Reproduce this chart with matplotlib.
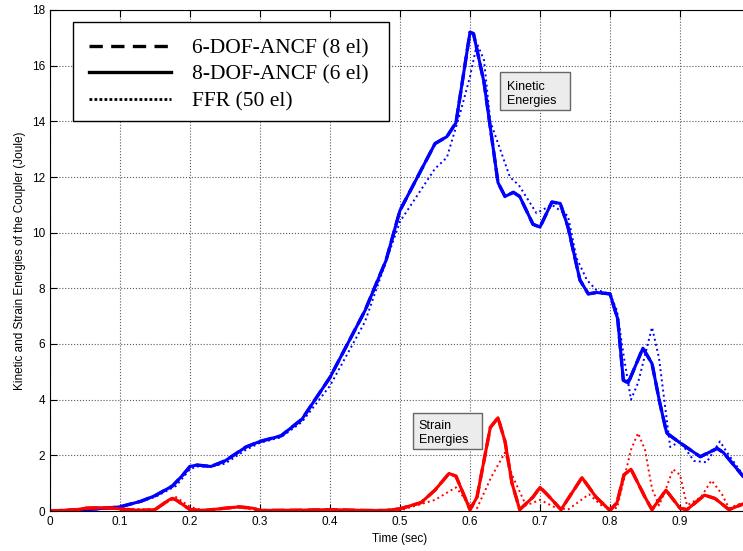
import numpy as np
import matplotlib
matplotlib.use("Agg")
import matplotlib.pyplot as plt
from matplotlib.lines import Line2D
from matplotlib.patches import Rectangle

# kinetic energy of the coupler (Joule)
t_ke = [0.0, 0.04, 0.08, 0.10, 0.13, 0.15, 0.175, 0.19, 0.20, 0.21, 0.23, 0.25, 0.28,
        0.30, 0.33, 0.36, 0.40, 0.45, 0.48, 0.50, 0.55, 0.567, 0.58, 0.60, 0.605,
        0.62, 0.64, 0.65, 0.662, 0.671, 0.69, 0.70, 0.717, 0.729, 0.74, 0.757,
        0.769, 0.781, 0.80, 0.811, 0.819, 0.826, 0.847, 0.86, 0.871, 0.881, 0.90,
        0.929, 0.953, 0.962, 0.99]
ke_ancf = [0.0, 0.03, 0.1, 0.15, 0.35, 0.55, 0.9, 1.3, 1.6, 1.65, 1.6, 1.8, 2.3,
           2.5, 2.7, 3.3, 4.8, 7.2, 9.0, 10.8, 13.2, 13.45, 13.95, 17.2, 17.15,
           15.4, 11.8, 11.3, 11.45, 11.3, 10.3, 10.2, 11.1, 11.05, 10.2, 8.3,
           7.8, 7.85, 7.8, 6.9, 4.7, 4.6, 5.85, 5.3, 3.9, 2.8, 2.45,
           1.95, 2.25, 2.1, 1.25]

t_ke_ffr = [0.0, 0.04, 0.08, 0.10, 0.15, 0.18, 0.20, 0.21, 0.23, 0.25, 0.28, 0.30,
            0.33, 0.36, 0.40, 0.45, 0.50, 0.55, 0.567, 0.586, 0.60, 0.61, 0.62,
            0.629, 0.657, 0.67, 0.695, 0.717, 0.74, 0.752, 0.767, 0.78, 0.80,
            0.81, 0.82, 0.83, 0.84, 0.86, 0.87, 0.886, 0.90, 0.92, 0.938, 0.957,
            0.97, 0.99]
ke_ffr = [0.0, 0.03, 0.08, 0.13, 0.5, 0.9, 1.5, 1.6, 1.6, 1.7, 2.2, 2.45,
          2.65, 3.2, 4.5, 6.8, 10.4, 12.3, 12.7, 14.3, 15.6, 16.8, 16.2,
          14.0, 12.0, 11.7, 10.7, 11.0, 10.6, 9.1, 8.3, 7.95, 7.8,
          7.2, 5.5, 4.0, 4.6, 6.6, 5.5, 2.3, 2.5, 1.8, 1.75, 2.5,
          2.0, 1.3]

# strain energy of the coupler (Joule)
t_se = [0.0, 0.04, 0.05, 0.07, 0.09, 0.11, 0.13, 0.15, 0.17, 0.175, 0.18, 0.20,
        0.22, 0.25, 0.27, 0.29, 0.30, 0.36, 0.40, 0.45, 0.48, 0.50, 0.53, 0.55,
        0.57, 0.58, 0.60, 0.61, 0.629, 0.64, 0.65, 0.66, 0.671, 0.69, 0.70,
        0.71, 0.73, 0.76, 0.78, 0.80, 0.81, 0.82, 0.83, 0.85, 0.86, 0.88,
        0.90, 0.91, 0.935, 0.95, 0.97, 0.99]
se_ancf = [0.0, 0.05, 0.1, 0.12, 0.1, 0.05, 0.02, 0.05, 0.4, 0.45, 0.4, 0.05,
           0.02, 0.1, 0.15, 0.1, 0.02, 0.03, 0.05, 0.02, 0.02, 0.08, 0.3, 0.75,
           1.35, 1.25, 0.05, 0.5, 3.0, 3.35, 2.5, 1.0, 0.05, 0.5, 0.85,
           0.6, 0.05, 1.2, 0.5, 0.02, 0.3, 1.3, 1.5, 0.5, 0.05, 0.75,
           0.1, 0.05, 0.57, 0.45, 0.05, 0.25]

t_se_ffr = [0.0, 0.05, 0.09, 0.15, 0.18, 0.20, 0.22, 0.27, 0.30, 0.40, 0.50,
            0.55, 0.58, 0.60, 0.61, 0.63, 0.65, 0.66, 0.68, 0.70, 0.72, 0.74,
            0.77, 0.79, 0.81, 0.83, 0.84, 0.85, 0.86, 0.87, 0.88, 0.89, 0.90,
            0.91, 0.93, 0.945, 0.96, 0.97, 0.99]
se_ffr = [0.0, 0.1, 0.1, 0.05, 0.5, 0.15, 0.02, 0.12, 0.02, 0.03, 0.02,
          0.4, 0.85, 0.2, 0.1, 1.2, 2.1, 1.3, 0.2, 0.4, 0.15, 0.05,
          0.6, 0.15, 0.1, 2.2, 2.8, 2.2, 0.8, 0.2, 0.8, 1.5, 1.3,
          0.2, 0.5, 1.1, 0.6, 0.1, 0.3]

xticks = [0, 0.1, 0.2, 0.3, 0.4, 0.5, 0.6, 0.7, 0.8, 0.9]
yticks = [0, 2, 4, 6, 8, 10, 12, 14, 16, 18]
legend_labels = ["6-DOF-ANCF (8 el)", "8-DOF-ANCF (6 el)", "FFR (50 el)"]

fig = plt.figure(figsize=(7.43, 5.51), dpi=100)
# right edge of the axes runs past the figure, so x=1 is cut off
ax = fig.add_axes([50 / 743, 40 / 551, 700 / 743, 501 / 551])

ax.plot(t_ke, ke_ancf, color="blue", lw=2.4, ls="--")
ax.plot(t_ke, ke_ancf, color="blue", lw=2.2)
ax.plot(t_ke_ffr, ke_ffr, color="blue", lw=1.4, ls=":")
ax.plot(t_se, se_ancf, color="red", lw=2.4, ls="--")
ax.plot(t_se, se_ancf, color="red", lw=2.2)
ax.plot(t_se_ffr, se_ffr, color="red", lw=1.4, ls=":")

ax.set_xlim(0, 1.0)
ax.set_ylim(0, 18)
ax.set_xticks(xticks)
ax.set_xticklabels([f"{v:g}" for v in xticks])
ax.set_yticks(yticks)
ax.grid(True, ls=":", color="0.35", lw=0.8)
ax.tick_params(direction="in", top=True, right=True, labelsize=8.5, length=5)
for lab in ax.get_xticklabels() + ax.get_yticklabels():
    lab.set_family("Liberation Sans")
for s in ax.spines.values():
    s.set_linewidth(0.8)

ax.set_xlabel("Time (sec)", family="Liberation Sans", fontsize=8.5, labelpad=4)
ax.set_ylabel("Kinetic and Strain Energies of the Coupler (Joule)",
              family="Liberation Sans", fontsize=8.5, labelpad=4)

# legend: own frame so the box height can be set directly
ax.add_patch(Rectangle((23 / 700, 390 / 501), 316 / 700, 99 / 501,
                       transform=ax.transAxes, facecolor="white",
                       edgecolor="k", lw=1.0, zorder=7))
handles = [Line2D([], [], color="k", lw=2.4, ls=(0, (4, 2.5))),
           Line2D([], [], color="k", lw=2.4),
           Line2D([], [], color="k", lw=2.0, ls=(0, (1, 0.8)))]
leg = ax.legend(handles, legend_labels, loc="upper left",
                bbox_to_anchor=(23 / 700, 489 / 501), borderaxespad=0,
                frameon=False, handlelength=3.8,
                borderpad=0.75, labelspacing=0.3, handletextpad=1.0,
                prop={"family": "Liberation Serif", "size": 15.5})
leg.set_zorder(8)

# annotation boxes
ax.add_patch(Rectangle((0.643, 14.39), 0.100, 1.37, facecolor="#ececec",
                       edgecolor="0.4", lw=1.0, zorder=5))
ax.text(0.653, 15.45, "Kinetic\nEnergies", ha="left", va="top", fontsize=9,
        family="Liberation Sans", linespacing=1.25, zorder=6)
ax.add_patch(Rectangle((0.519, 2.23), 0.098, 1.30, facecolor="#ececec",
                       edgecolor="0.4", lw=1.0, zorder=5))
ax.text(0.527, 3.27, "Strain\nEnergies", ha="left", va="top", fontsize=9,
        family="Liberation Sans", linespacing=1.25, zorder=6)

fig.savefig("out.png", dpi=100)
